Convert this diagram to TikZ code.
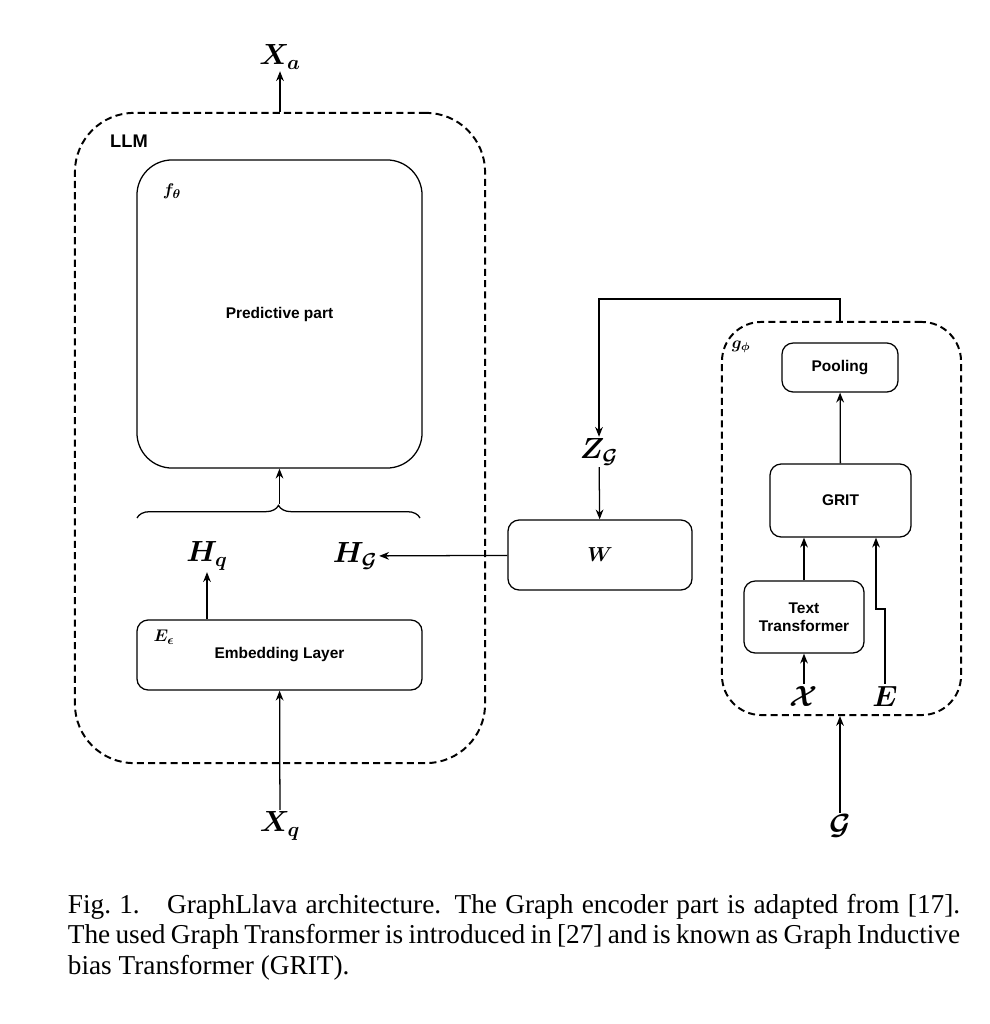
\documentclass[tikz,border=0pt]{standalone}
\usepackage{amsmath}
\usepackage{fontspec}
\setmainfont{Liberation Serif}
\setsansfont{Liberation Sans}
\usetikzlibrary{arrows.meta,decorations.pathreplacing}

\begin{document}
\begin{tikzpicture}[x=0.025cm,y=-0.025cm,line width=0.9pt,>={Stealth[length=7pt,width=5.5pt]}]
  \tikzstyle{every node}=[font=\sffamily\bfseries\fontsize{11}{13}\selectfont]
  \tikzstyle{block}=[draw,rounded corners=8pt,align=center,inner sep=0pt]
  \tikzstyle{frame}=[draw,line width=1.4pt,dash pattern=on 5pt off 3pt,inner sep=0pt]
  \tikzstyle{sym}=[font=\fontsize{21}{24}\selectfont,inner sep=1pt]
  \useasboundingbox (0,0) rectangle (989,1024);

    % LLM side
    \node[frame,rounded corners=42pt,minimum width=10.25cm,minimum height=16.25cm] (llm) at (280,438) {};
    \node[font=\sffamily\bfseries\fontsize{13}{15}\selectfont] (llmlbl) at (129,141) {LLM};
    \node[block,rounded corners=25pt,minimum width=7.125cm,minimum height=7.7cm] (pred) at (279.5,314) {Predictive part};
    \node[font=\fontsize{13}{15}\selectfont] (flbl) at (172,191) {$\boldsymbol{f_\theta}$};
    \node[block,minimum width=7.125cm,minimum height=1.75cm] (emb) at (279.5,655) {Embedding Layer};
    \node[font=\fontsize{13}{15}\selectfont] (elbl) at (164,637) {$\boldsymbol{E_\epsilon}$};
    \node[sym] (xa) at (280,57) {$\boldsymbol{X_a}$};
    \node[sym] (hq) at (207,556) {$\boldsymbol{H_q}$};
    \node[sym] (hg) at (355,556) {$\boldsymbol{H_{\mathcal{G}}}$};
    \node[sym] (xq) at (280,826) {$\boldsymbol{X_q}$};
    \coordinate (tip) at (279.5,504);

    % projection
    \node[block,minimum width=4.6cm,minimum height=1.75cm,font=\fontsize{14}{16}\selectfont] (w) at (600,555) {$\boldsymbol{W}$};
    \node[sym] (zg) at (599,452) {$\boldsymbol{Z_{\mathcal{G}}}$};

    % graph encoder
    \node[frame,rounded corners=28pt,minimum width=5.975cm,minimum height=9.825cm] (genc) at (841.5,518.5) {};
    \node[font=\fontsize{12}{14}\selectfont] (glbl) at (741,347) {$\boldsymbol{g_\phi}$};
    \node[block,minimum width=2.9cm,minimum height=1.225cm] (pool) at (840,367.5) {Pooling};
    \node[block,minimum width=3.525cm,minimum height=1.825cm] (grit) at (840.5,500.5) {GRIT};
    \node[block,minimum width=3cm,minimum height=1.8cm] (tt) at (804,617) {Text\\Transformer};
    \node[sym] (xx) at (804,696) {$\boldsymbol{\mathcal{X}}$};
    \node[sym] (ee) at (885,696) {$\boldsymbol{E}$};
    \node[sym] (gg) at (840,826) {$\boldsymbol{\mathcal{G}}$};
    \coordinate (ej1) at (885,609);
    \coordinate (ej2) at (876,609);

    \draw[decorate,decoration={brace,amplitude=9pt}] (137,518) -- (420,518);
    \draw[->] (llm.north) -- (xa);
    \draw[->] (tip) -- (pred.south);
    \draw[->] (emb.north -| hq) -- (hq);
    \draw[->] (xq) -- (emb);
    \draw[->] (w) -- (hg);
    \draw[->] (zg) -- (w);
    \draw[->] (genc.north -| pool) -- ++(0,-22) -| (zg);
    \draw[->] (grit) -- (pool);
    \draw[->] (tt) -- (grit.south -| tt);
    \draw[->] (xx) -- (tt);
    \draw[->] (ee) -- (ej1) -- (ej2) -- (grit.south -| ej2);
    \draw[->] (gg) -- (genc.south -| gg);

    \node[font=\rmfamily\fontsize{19.4}{21.6}\selectfont,text width=22.3cm,align=justify,inner sep=0pt] (cap) at (514,937)
      {Fig.~1.\quad GraphLlava architecture. The Graph encoder part is adapted from [17]. The used Graph Transformer is introduced in [27] and is known as Graph Inductive bias Transformer (GRIT).};
\end{tikzpicture}
\end{document}
